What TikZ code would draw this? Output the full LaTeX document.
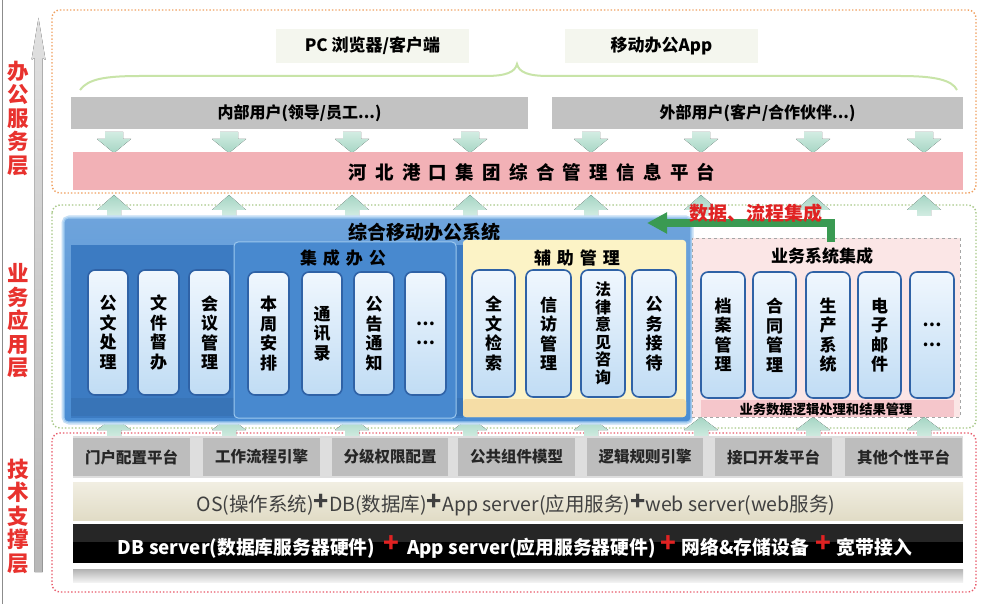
\documentclass[tikz,border=0pt]{standalone}
\usepackage{fontspec}
\setmainfont{Noto Sans CJK SC}
\usetikzlibrary{arrows.meta}
\definecolor{orangedot}{HTML}{F0A060}
\definecolor{greendot}{HTML}{A8C888}
\definecolor{reddot}{HTML}{E85A6A}
\definecolor{layerred}{HTML}{E8322E}
\definecolor{bracegreen}{HTML}{C8E4A8}
\definecolor{usergray}{HTML}{C2C2C2}
\definecolor{platpink}{HTML}{F2B1B6}
\definecolor{arrowteal}{HTML}{A6D6C4}
\definecolor{arrowtealL}{HTML}{D2ECE2}
\definecolor{bluebox}{HTML}{4A8DD3}
\definecolor{blueinner}{HTML}{3C7BC2}
\definecolor{bluesub}{HTML}{4889CF}
\definecolor{blueedge}{HTML}{9CC8EE}
\definecolor{pillborder}{HTML}{2F62A6}
\definecolor{pilltop}{HTML}{F0F7FE}
\definecolor{pillbot}{HTML}{C0DCF4}
\definecolor{yellowbox}{HTML}{FCF3C6}
\definecolor{yellowband}{HTML}{F5DDA6}
\definecolor{pinkbox}{HTML}{FBE6E6}
\definecolor{pinkband}{HTML}{F5C6CB}
\definecolor{dataarrow}{HTML}{3A9A52}
\definecolor{cellgray}{HTML}{BDBDBD}
\definecolor{cellbg}{HTML}{DEDEDE}
\definecolor{beigeT}{HTML}{F1EEE2}
\definecolor{beigeB}{HTML}{E1DCC6}
\definecolor{plusred}{HTML}{E02222}
\definecolor{clientbg}{HTML}{F4F6EE}
\makeatletter
\newcommand\spaced[2]{\def\sp@first{1}\@tfor\sp@c:=#2\do{\ifx\sp@first\@empty\hspace{#1}\fi\sp@c\let\sp@first\@empty}}
\makeatother
\newcommand\rbox[7]{\node[#1, minimum width={#5-#3}, minimum height={#6-#4}] (#2) at ({(#3+#5)/2},{(#4+#6)/2}) {#7};}
\tikzset{
  every node/.style={inner sep=0pt, outer sep=0pt},
  layerlabel/.style={text=layerred, font=\bfseries\fontsize{21.5}{23.5}\selectfont, align=center},
  pill/.style={rounded corners=7pt, draw=pillborder, line width=1.6pt, top color=pilltop, bottom color=pillbot, font=\bfseries\fontsize{17}{19.5}\selectfont, align=center},
  userbar/.style={fill=usergray, font=\bfseries\fontsize{16}{18}\selectfont},
  clientbox/.style={fill=clientbg, font=\bfseries\fontsize{17}{19}\selectfont},
  cell/.style={fill=cellgray, font=\bfseries\fontsize{15.5}{18}\selectfont, text=black!85},
  grouptitle/.style={font=\bfseries\fontsize{17}{19}\selectfont},
  downarr/.style={top color=arrowtealL, bottom color=arrowteal},
  uparr/.style={top color=arrowteal, bottom color=arrowtealL},
  bigplus/.style={},
}
\newcommand\osplus{\raisebox{1.5pt}{\bfseries\fontsize{25}{25}\selectfont +}}
\newcommand\hwplus{\raisebox{2pt}{\textcolor{plusred}{\fontsize{26}{26}\selectfont +}}}
\begin{document}
\begin{tikzpicture}[x=1pt,y=-1pt]
\useasboundingbox (0,0) rectangle (994,604);
\fill[white] (0,0) rectangle (994,604);
\draw[black!45, line width=0.8pt] (2,0) -- (2,604);

% left vertical gray arrow
\fill[top color=black!12, bottom color=black!28] (34.5,572) -- (34.5,58) -- (31.5,60) -- (38.5,18) -- (45.5,60) -- (42.5,58) -- (42.5,572) -- cycle;

% layer labels
\node[layerlabel] (l1) at (18,118) {办\\公\\服\\务\\层};
\node[layerlabel] (l2) at (18,321) {业\\务\\应\\用\\层};
\node[layerlabel] (l3) at (18,516) {技\\术\\支\\撑\\层};

% ===== layer frames =====
\draw[orangedot, line width=1.4pt, dotted, rounded corners=8pt] (52,10) rectangle (976,193);
\draw[greendot, line width=1.4pt, dotted, rounded corners=8pt] (52,205) rectangle (976,428);
\draw[reddot, line width=1.4pt, dotted, rounded corners=8pt] (52,433) rectangle (976,592);

% ===== top layer =====
\rbox{clientbox}{pc}{276}{29}{469}{63}{PC 浏览器/客户端}
\rbox{clientbox}{app}{565}{29}{758}{63}{移动办公App}
\draw[bracegreen, line width=2pt] (80,90) .. controls (88,79) and (105,76) .. (140,76) -- (485,76) .. controls (507,76) and (515,72) .. (517,64) .. controls (519,72) and (527,76) .. (549,76) -- (900,76) .. controls (935,76) and (952,80) .. (957,90);
\rbox{userbar}{inner}{71}{97}{528}{129}{内部用户(领导/员工...)}
\rbox{userbar}{outer}{552}{97}{963}{129}{外部用户(客户/合作伙伴...)}
\foreach \cx in {114,229,352,470,591,701,813,924}{
  \fill[downarr] (\cx-9,132) -- (\cx+9,132) -- (\cx+9,139) -- (\cx+17,139) -- (\cx,153) -- (\cx-17,139) -- (\cx-9,139) -- cycle;
}
\rbox{fill=platpink}{plat}{73}{152}{963}{190}{}
\node[font=\bfseries\fontsize{18.5}{20}\selectfont] (platt) at (532,172) {\spaced{8.3pt}{河北港口集团综合管理信息平台}};

% up arrows top->middle
\foreach \cx in {114,229,352,470,591,701,813,924}{
  \fill[uparr] (\cx-7,216) -- (\cx-7,210) -- (\cx-17,210) -- (\cx,195) -- (\cx+17,210) -- (\cx+7,210) -- (\cx+7,216) -- cycle;
}
% up arrows middle->bottom
\foreach \cx in {114,229,352,470,591,701,813,924}{
  \fill[uparr] (\cx-7,438) -- (\cx-7,430) -- (\cx-17,430) -- (\cx,417) -- (\cx+17,430) -- (\cx+7,430) -- (\cx+7,438) -- cycle;
}

% ===== middle layer =====
\draw[blueedge!60, line width=5pt, rounded corners=5pt] (64,218) rectangle (691,422);
\rbox{top color=bluebox!80!white, bottom color=bluebox, rounded corners=4pt, draw=blueedge, line width=1.2pt}{mobile}{64}{218}{691}{422}{}
\node[font=\bfseries\fontsize{19}{20}\selectfont] (mobilet) at (424,232) {综合移动办公系统};
\fill[blueinner] (71,245) rectangle (463,418);
\fill[blueinner!85!black, opacity=0.35] (71,398) rectangle (463,416);
\rbox{fill=bluesub, draw=blueedge, line width=1pt, rounded corners=4pt}{integ}{234}{242}{456}{418}{}
\node[grouptitle] (integt) at (343,258) {\spaced{6pt}{集成办公}};
\rbox{fill=yellowbox, rounded corners=3pt}{aux}{463}{240}{686}{417}{}
\fill[yellowband, rounded corners=3pt] (463,399) rectangle (686,417);
\node[grouptitle] (auxt) at (577,258) {\spaced{6pt}{辅助管理}};

\rbox{fill=pinkbox, draw=black!35, dashed, line width=0.8pt}{biz}{692}{238}{960}{417}{}
\node[grouptitle] (bizt) at (822,256) {业务系统集成};
\rbox{fill=pinkband}{bizband}{701}{400}{954}{417}{}
\node[font=\bfseries\fontsize{13.3}{15}\selectfont] (bizbandt) at (826,409.5) {业务数据逻辑处理和结果管理};

% pills
\rbox{pill}{p1}{88}{270}{128}{395}{公\\文\\处\\理}
\rbox{pill}{p2}{138}{270}{179}{395}{文\\件\\督\\办}
\rbox{pill}{p3}{189}{270}{230}{395}{会\\议\\管\\理}
\rbox{pill}{p4}{248}{272}{289}{395}{本\\周\\安\\排}
\rbox{pill}{p5}{302}{272}{342}{395}{通\\讯\\录}
\rbox{pill}{p6}{354}{272}{394}{395}{公\\告\\通\\知}
\rbox{pill}{p7}{405}{272}{446}{395}{…\\…}
\rbox{pill}{p8}{472}{270}{515}{397}{全\\文\\检\\索}
\rbox{pill}{p9}{526}{270}{571}{397}{信\\访\\管\\理}
\rbox{pill, font=\bfseries\fontsize{16}{17.5}\selectfont}{p10}{581}{270}{625}{397}{法\\律\\意\\见\\咨\\询}
\rbox{pill}{p11}{632}{270}{676}{397}{公\\务\\接\\待}
\rbox{pill}{p12}{701}{272}{745}{398}{档\\案\\管\\理}
\rbox{pill}{p13}{753}{272}{796}{398}{合\\同\\管\\理}
\rbox{pill}{p14}{806}{272}{850}{398}{生\\产\\系\\统}
\rbox{pill}{p15}{858}{272}{901}{398}{电\\子\\邮\\件}
\rbox{pill}{p16}{910}{272}{954}{398}{…\\…}

% data integration arrow
\coordinate (dastart) at (831,242);
\coordinate (daend) at (647,223);
\draw[dataarrow, line width=8pt, -{Triangle[length=20pt,width=20pt]}] (dastart) |- (daend);
\node[text=plusred, font=\bfseries\itshape\fontsize{19}{20}\selectfont] (dat) at (756,213) {数据、流程集成};

% ===== bottom layer =====
\fill[cellbg] (73,436) rectangle (963,478);
\rbox{cell}{c1}{73}{438}{190}{476}{门户配置平台}
\rbox{cell}{c2}{203}{438}{320}{476}{工作流程引擎}
\rbox{cell}{c3}{332}{438}{448}{476}{分级权限配置}
\rbox{cell}{c4}{458}{438}{575}{476}{公共组件模型}
\rbox{cell}{c5}{587}{438}{703}{476}{逻辑规则引擎}
\rbox{cell}{c6}{715}{438}{832}{476}{接口开发平台}
\rbox{cell}{c7}{845}{438}{962}{476}{其他个性平台}

\rbox{top color=beigeT, bottom color=beigeB}{os}{73}{482}{963}{520}{}
\node[text=black!75, font=\fontsize{19.5}{21}\selectfont] (ost) at (516,505) {OS(操作系统)\osplus DB(数据库)\osplus App server(应用服务)\osplus web server(web服务)};

\fill[black!85] (73,524) rectangle (963,542);
\rbox{fill=black}{hw}{73}{542}{963}{563}{}
\node[text=white, font=\bfseries\fontsize{18.8}{20}\selectfont] (hwt) at (515,547) {DB server(数据库服务器硬件)\hspace{8pt}\hwplus\hspace{8pt}App server(应用服务器硬件)\hspace{5pt}\hwplus\hspace{5pt}网络\&存储设备\hspace{6pt}\hwplus\hspace{6pt}宽带接入};

\fill[top color=black!30, bottom color=black!5] (73,569) rectangle (963,582);
\end{tikzpicture}
\end{document}
